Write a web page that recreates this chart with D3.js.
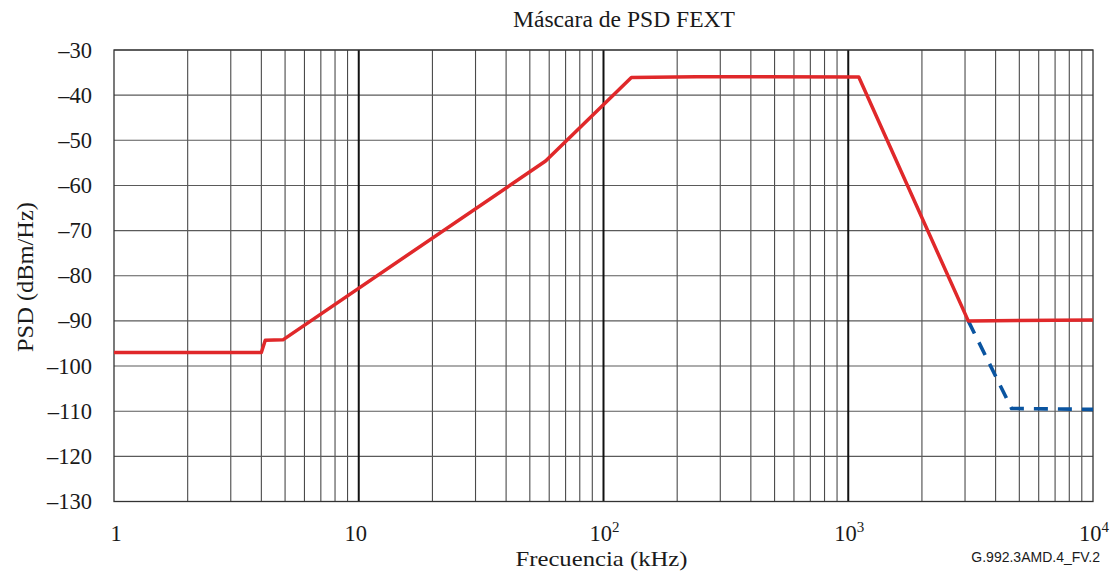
<!DOCTYPE html>
<html>
<head>
<meta charset="utf-8">
<script src="https://cdn.jsdelivr.net/npm/d3@7"></script>
<style>
  body { margin: 0; background: #fff; }
  text { font-family: "Liberation Serif", "Times New Roman", serif; fill: #1a1a1a; }
  .note { font-family: "Liberation Sans Narrow", "Arial Narrow", "Liberation Sans", sans-serif; }
</style>
</head>
<body>
<svg id="chart" width="1112" height="571"></svg>
<script>
// mask values (kHz, dBm/Hz)
var maskFreq = [1, 4.0, 4.15, 4.9, 58, 130, 240, 1104, 3093, 10000];
var maskPsd  = [-97, -97, -94.3, -94.2, -54.6, -36.1, -35.9, -36.0, -90.0, -89.8];
var altFreq = [3093, 4650, 10000];
var altPsd  = [-90.0, -109.4, -109.6];

var yTicks = [-30, -40, -50, -60, -70, -80, -90, -100, -110, -120, -130];
var xTicks = [1, 10, 100, 1000, 10000];
var xTickBase = ["1", "10", "10", "10", "10"];
var xTickExp  = ["", "", "2", "3", "4"];

var svg = d3.select("#chart");
var plotL = 114, plotR = 1093, plotT = 50, plotB = 501.5;

var x = d3.scaleLog().domain([1, 10000]).range([plotL, plotR]);
var y = d3.scaleLinear().domain([-130, -30]).range([plotB, plotT]);

// minor vertical grid
var minor = [];
for (var d = 1; d < 10000; d *= 10) {
  for (var k = 2; k <= 9; k++) minor.push(d * k);
}
svg.append("g").selectAll("line").data(minor).join("line")
  .attr("x1", function(v) { return x(v); }).attr("x2", function(v) { return x(v); })
  .attr("y1", plotT).attr("y2", plotB)
  .attr("stroke", "#4a4a4a").attr("stroke-width", 1.1);

// horizontal grid
svg.append("g").selectAll("line").data(yTicks).join("line")
  .attr("x1", plotL).attr("x2", plotR)
  .attr("y1", function(v) { return y(v); }).attr("y2", function(v) { return y(v); })
  .attr("stroke", "#5a5a5a").attr("stroke-width", 1.1);

// decade lines
svg.append("g").selectAll("line").data([10, 100, 1000]).join("line")
  .attr("x1", function(v) { return x(v); }).attr("x2", function(v) { return x(v); })
  .attr("y1", plotT).attr("y2", plotB)
  .attr("stroke", "#111").attr("stroke-width", 2);

// frame
svg.append("rect").attr("x", plotL).attr("y", plotT)
  .attr("width", plotR - plotL).attr("height", plotB - plotT)
  .attr("fill", "none").attr("stroke", "#333").attr("stroke-width", 1.3);

// y tick labels (en dash as minus)
svg.append("g").selectAll("text").data(yTicks).join("text")
  .attr("x", 92).attr("y", function(v) { return y(v) + 7.5; })
  .attr("text-anchor", "end").attr("font-size", 22.5)
  .text(function(v) { return "\u2013" + Math.abs(v); });

// x tick labels with superscripts
var xl = svg.append("g").selectAll("text").data(xTicks).join("text")
  .attr("x", function(v, i) { return x(v) + (xTickExp[i] ? 1 : (i ? -3 : 2)); }).attr("y", 541)
  .attr("text-anchor", "middle").attr("font-size", 22.5);
xl.append("tspan").text(function(v, i) { return xTickBase[i]; });
xl.append("tspan").attr("dy", -9).attr("font-size", 15)
  .text(function(v, i) { return xTickExp[i]; });

// titles
svg.append("text").attr("x", 624).attr("y", 27).attr("text-anchor", "middle")
  .attr("font-size", 23).attr("textLength", 222).attr("lengthAdjust", "spacingAndGlyphs")
  .text("Máscara de PSD FEXT");
svg.append("text").attr("x", 601.5).attr("y", 566).attr("text-anchor", "middle")
  .attr("font-size", 22).attr("textLength", 172).attr("lengthAdjust", "spacingAndGlyphs")
  .text("Frecuencia (kHz)");
svg.append("text").attr("transform", "translate(33,277) rotate(-90)")
  .attr("text-anchor", "middle").attr("font-size", 23)
  .attr("textLength", 150).attr("lengthAdjust", "spacingAndGlyphs").text("PSD (dBm/Hz)");
svg.append("text").attr("class", "note").attr("x", 1100).attr("y", 562)
  .attr("text-anchor", "end").attr("font-size", 14).text("G.992.3AMD.4_FV.2");

var line = d3.line()
  .x(function(d) { return x(d[0]); })
  .y(function(d) { return y(d[1]); });

svg.append("path").datum(d3.zip(altFreq, altPsd)).attr("d", line)
  .attr("fill", "none").attr("stroke", "#0a54a0").attr("stroke-width", 3.6)
  .attr("stroke-dasharray", "14,10");

svg.append("path").datum(d3.zip(maskFreq, maskPsd)).attr("d", line)
  .attr("fill", "none").attr("stroke", "#e0282a").attr("stroke-width", 3.5)
  .attr("stroke-linejoin", "round");
</script>
</body>
</html>
